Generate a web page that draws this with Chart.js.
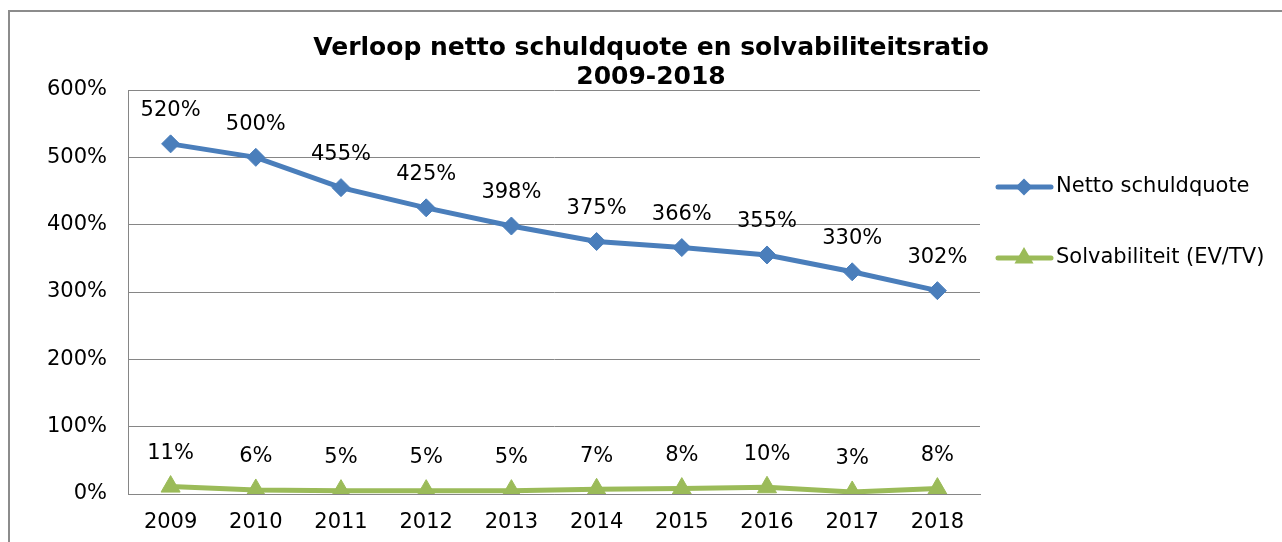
<!DOCTYPE html>
<html>
<head>
<meta charset="utf-8">
<script src="https://cdn.jsdelivr.net/npm/chart.js@4"></script>
<style>
  html, body { margin: 0; padding: 0; background: #fff; }
  #wrap { width: 1282px; height: 542px; position: relative; }
</style>
</head>
<body>
<div id="wrap"><canvas id="myChart" width="1282" height="542"></canvas></div>
<script>
  const years = ["2009", "2010", "2011", "2012", "2013", "2014", "2015", "2016", "2017", "2018"];
  const schuldquote = [520, 500, 455, 425, 398, 375, 366, 355, 330, 302];
  const solvabiliteit = [11, 6, 5, 5, 5, 7, 8, 10, 3, 8];
  const titleLines = ["Verloop netto schuldquote en solvabiliteitsratio", "2009-2018"];
  const seriesNames = ["Netto schuldquote", "Solvabiliteit (EV/TV)"];

  const FONT = "'DejaVu Sans', Verdana, sans-serif";

  // labels boven de punten, titel, legenda en kader
  const extras = {
    id: "extras",
    afterDatasetsDraw(chart) {
      const ctx = chart.ctx;
      ctx.save();
      ctx.fillStyle = "#000";
      ctx.font = "21px " + FONT;
      ctx.textAlign = "center";
      ctx.textBaseline = "middle";
      chart.data.datasets.forEach((ds, i) => {
        chart.getDatasetMeta(i).data.forEach((pt, j) => {
          ctx.fillText(ds.data[j] + "%", pt.x, pt.y - 33);
        });
      });
      ctx.restore();
    },
    afterDraw(chart) {
      const ctx = chart.ctx;
      ctx.save();
      // kader
      ctx.strokeStyle = "#8c8c8c";
      ctx.lineWidth = 2;
      ctx.beginPath();
      ctx.moveTo(9, 600);
      ctx.lineTo(9, 11);
      ctx.lineTo(1290, 11);
      ctx.stroke();

      // titel
      ctx.fillStyle = "#000";
      ctx.font = "bold 25px " + FONT;
      ctx.textAlign = "center";
      ctx.textBaseline = "middle";
      ctx.fillText(titleLines[0], 651, 48);
      ctx.fillText(titleLines[1], 651, 77);

      // legenda
      const ys = [187, 258];
      chart.data.datasets.forEach((ds, i) => {
        const y = ys[i];
        ctx.strokeStyle = ds.borderColor;
        ctx.lineWidth = 5;
        ctx.lineCap = "round";
        ctx.beginPath();
        ctx.moveTo(998, y);
        ctx.lineTo(1051, y);
        ctx.stroke();
        Chart.helpers.drawPoint(ctx, {
          pointStyle: ds.pointStyle,
          radius: i === 0 ? 5 : 6,
          borderWidth: 1,
        }, 1024, y);
        ctx.fillStyle = ds.borderColor;
        ctx.fill();
        ctx.fillStyle = "#000";
        ctx.font = "21px " + FONT;
        ctx.textAlign = "left";
        ctx.fillText(ds.label, 1056, y);
      });
      ctx.restore();
    },
  };

  const ctx = document.getElementById("myChart").getContext("2d");
  new Chart(ctx, {
    type: "line",
    data: {
      labels: years,
      datasets: [
        {
          label: seriesNames[0],
          data: schuldquote,
          borderColor: "#4a7ebb",
          backgroundColor: "#4a7ebb",
          borderWidth: 5,
          pointStyle: "rectRot",
          pointRadius: 9,
          pointBorderWidth: 1,
          tension: 0,
        },
        {
          label: seriesNames[1],
          data: solvabiliteit,
          borderColor: "#9bbb59",
          backgroundColor: "#9bbb59",
          borderWidth: 5,
          pointStyle: "triangle",
          pointRadius: 11,
          pointBorderWidth: 1,
          tension: 0,
        },
      ],
    },
    options: {
      responsive: false,
      animation: false,
      layout: { padding: { left: 0, right: 302, top: 90, bottom: 0 } },
      plugins: {
        legend: { display: false },
        title: { display: false },
        tooltip: { enabled: false },
      },
      scales: {
        x: {
          offset: true,
          grid: { display: false, drawTicks: false },
          border: { color: "#868686", width: 1 },
          ticks: { color: "#000", padding: 16, maxRotation: 0, font: { family: FONT, size: 21 } },
          afterFit: (axis) => { axis.height = 48; },
        },
        y: {
          min: 0,
          max: 600,
          grid: { color: "#868686", drawTicks: false },
          border: { color: "#868686", width: 1 },
          ticks: {
            stepSize: 100,
            color: "#000",
            padding: 21,
            font: { family: FONT, size: 21 },
            callback: (value) => value + "%",
          },
          afterFit: (axis) => { axis.width = 128; },
        },
      },
    },
    plugins: [extras],
  });
</script>
</body>
</html>
